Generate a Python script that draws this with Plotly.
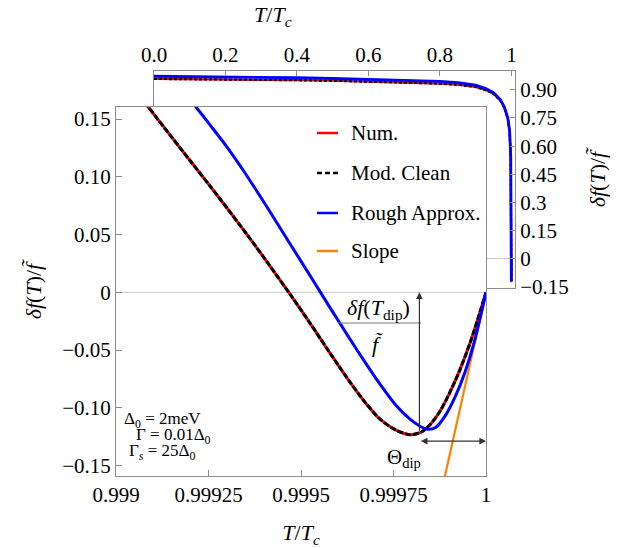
import plotly.graph_objects as go

# ---------------- data ----------------
# close-up window near T_c
t_main = [0.9990649, 0.9990873, 0.9991459, 0.9992000, 0.9992541, 0.9993081, 0.9993622,
          0.9994162, 0.9994703, 0.9995243, 0.9995784, 0.9996324, 0.9996730, 0.9997135,
          0.9997541, 0.9997946, 0.9998243, 0.9998486, 0.9998757, 0.9999027, 0.9999297,
          0.9999568, 0.9999838, 1.0]
num_main = [0.1701, 0.1605, 0.1363, 0.1142, 0.0921, 0.0696, 0.0466,
            0.0228, -0.0015, -0.0266, -0.0526, -0.0777, -0.0951, -0.1098,
            -0.1189, -0.1232, -0.1211, -0.1146, -0.1029, -0.0864, -0.0669,
            -0.0439, -0.0171, 0.0]
mod_clean_main = [0.1701, 0.1605, 0.1363, 0.1142, 0.0921, 0.0696, 0.0466,
                  0.0228, -0.0015, -0.0266, -0.0526, -0.0777, -0.0951, -0.1098,
                  -0.1189, -0.1232, -0.1211, -0.1146, -0.1029, -0.0864, -0.0669,
                  -0.0439, -0.0171, 0.0]

t_rough = [0.9992000, 0.9992162, 0.9992541, 0.9992992, 0.9993441, 0.9993892, 0.9994343,
           0.9994792, 0.9995243, 0.9995784, 0.9996324, 0.9996730, 0.9997135, 0.9997541,
           0.9997946, 0.9998216, 0.9998432, 0.9998649, 0.9998892, 0.9999162, 0.9999432,
           0.9999703, 1.0]
rough_main = [0.1671, 0.1605, 0.1450, 0.1262, 0.1055, 0.0834, 0.0605,
              0.0375, 0.0146, -0.0132, -0.0405, -0.0604, -0.0795, -0.0968,
              -0.1098, -0.1159, -0.1185, -0.1167, -0.1072, -0.0907, -0.0691,
              -0.0405, 0.0]

slope_t = [0.99988, 1.0]
slope_vals = [-0.172, 0.0]

# dip markers
t_dip = 0.99982
dip_val = -0.1211
theta_level = -0.1288

# full temperature range (inset)
t_full = [0.0, 0.1, 0.2, 0.3, 0.4, 0.5, 0.6, 0.7, 0.8, 0.85, 0.9, 0.93, 0.95,
          0.97, 0.98, 0.99, 0.995, 0.998, 0.999, 0.9995, 0.9998, 1.0]
num_full = [0.958, 0.957, 0.956, 0.954, 0.951, 0.948, 0.944, 0.939, 0.933, 0.927,
            0.915, 0.897, 0.878, 0.840, 0.805, 0.745, 0.675, 0.540, 0.330, 0.0,
            -0.124, 0.0]
mod_clean_full = [0.958, 0.957, 0.956, 0.954, 0.951, 0.948, 0.944, 0.939, 0.933, 0.927,
                  0.915, 0.897, 0.878, 0.840, 0.805, 0.745, 0.675, 0.540, 0.330, 0.0,
                  -0.124, 0.0]
rough_full = [0.972, 0.971, 0.969, 0.967, 0.964, 0.960, 0.956, 0.951, 0.945, 0.938,
              0.925, 0.905, 0.885, 0.845, 0.810, 0.750, 0.680, 0.550, 0.350, 0.05,
              -0.118, 0.0]

main_xticks = [0.999, 0.99925, 0.9995, 0.99975, 1.0]
main_xlabels = ["0.999", "0.99925", "0.9995", "0.99975", "1"]
main_yticks = [-0.15, -0.10, -0.05, 0.0, 0.05, 0.10, 0.15]
main_ylabels = ["\u22120.15", "\u22120.10", "\u22120.05", "0", "0.05", "0.10", "0.15"]
full_xticks = [0.0, 0.2, 0.4, 0.6, 0.8, 1.0]
full_xlabels = ["0.0", "0.2", "0.4", "0.6", "0.8", "1"]
full_yticks = [-0.15, 0.0, 0.15, 0.3, 0.45, 0.6, 0.75, 0.9]
full_ylabels = ["\u22120.15", "0", "0.15", "0.3", "0.45", "0.60", "0.75", "0.90"]

legend_names = ["Num.", "Mod. Clean", "Rough Approx.", "Slope"]
param_lines = ["\u0394<sub>0</sub> = 2meV",
               "\u0393 = 0.01\u0394<sub>0</sub>",
               "\u0393<sub><i>s</i></sub> = 25\u0394<sub>0</sub>"]

# ---------------- styling ----------------
W, H = 641, 548
FONT = "Liberation Serif"
RED, BLUE, ORANGE = "#ff0000", "#0000ff", "#ff8000"
FRAME = "#8c8c8c"
main_xrange = [0.999, 1.0]
main_yrange = [-0.159, 0.1605]
full_xrange = [0.0, 1.01]
full_yrange = [-0.155, 1.0]


def px(xp):
    return xp / W


def py(yp):
    return 1 - yp / H


TITLE_T = "<i>T</i>/<i>T</i><sub><i>c</i></sub>"
TITLE_DF = "<i>\u03b4f</i>(<i>T</i>)/<i>f\u0303</i>"

fig = go.Figure()

# inset: full range (subplot xy, drawn first)
fig.add_trace(go.Scatter(x=t_full, y=num_full, mode="lines", xaxis="x", yaxis="y",
                         line=dict(color=RED, width=2.2), showlegend=False))
fig.add_trace(go.Scatter(x=t_full, y=mod_clean_full, mode="lines", xaxis="x", yaxis="y",
                         line=dict(color="black", width=2.2, dash="3px,2px"), showlegend=False))
fig.add_trace(go.Scatter(x=t_full, y=rough_full, mode="lines", xaxis="x", yaxis="y",
                         line=dict(color=BLUE, width=2.8), showlegend=False))

# main window (subplot x2y2, drawn on top); opaque backing hides the inset frame
fig.add_trace(go.Scatter(
    x=[main_xrange[0], main_xrange[1], main_xrange[1], main_xrange[0], main_xrange[0]],
    y=[main_yrange[0], main_yrange[0], main_yrange[1], main_yrange[1], main_yrange[0]],
    mode="lines", fill="toself", fillcolor="white", line=dict(width=0, color="white"),
    xaxis="x2", yaxis="y2", hoverinfo="skip", showlegend=False))
fig.add_trace(go.Scatter(x=main_xrange, y=[0, 0], mode="lines", xaxis="x2", yaxis="y2",
                         line=dict(color="#c8c8c8", width=1), hoverinfo="skip",
                         showlegend=False))
fig.add_trace(go.Scatter(x=slope_t, y=slope_vals, mode="lines", xaxis="x2", yaxis="y2",
                         line=dict(color=ORANGE, width=2.2), name=legend_names[3],
                         showlegend=False))
fig.add_trace(go.Scatter(x=t_main, y=num_main, mode="lines", xaxis="x2", yaxis="y2",
                         line=dict(color=RED, width=3, shape="spline", smoothing=0.8),
                         name=legend_names[0], showlegend=False))
fig.add_trace(go.Scatter(x=t_main, y=mod_clean_main, mode="lines", xaxis="x2", yaxis="y2",
                         line=dict(color="black", width=3, dash="6px,2px", shape="spline",
                                   smoothing=0.8),
                         name=legend_names[1], showlegend=False))
fig.add_trace(go.Scatter(x=t_rough, y=rough_main, mode="lines", xaxis="x2", yaxis="y2",
                         line=dict(color=BLUE, width=3, shape="spline", smoothing=0.8),
                         name=legend_names[2], showlegend=False))

tickfont = dict(family=FONT, size=21, color="black")


def axis_style(**extra):
    base = dict(showline=True, linecolor=FRAME, linewidth=1, mirror=True,
                ticks="inside", tickcolor=FRAME, ticklen=6, tickwidth=1,
                showgrid=False, zeroline=False, tickfont=tickfont, automargin=False)
    base.update(extra)
    return base


fig.update_layout(
    width=W, height=H,
    margin=dict(l=0, r=0, t=0, b=0),
    paper_bgcolor="white", plot_bgcolor="rgba(0,0,0,0)",
    font=dict(family=FONT, color="black"),
    showlegend=False,
    xaxis=axis_style(domain=[px(154), px(515)], range=full_xrange, anchor="y", side="top",
                     tickvals=full_xticks, ticktext=full_xlabels, ticklen=5),
    yaxis=axis_style(domain=[py(288), py(71)], range=full_yrange, anchor="x", side="right",
                     tickvals=full_yticks, ticktext=full_ylabels, ticklen=5,
                     zeroline=True, zerolinecolor="#c8c8c8", zerolinewidth=1,
                     title=dict(text=TITLE_DF, font=dict(family=FONT, size=22),
                                standoff=21)),
    xaxis2=axis_style(domain=[px(116), px(486)], range=main_xrange, anchor="y2",
                      side="bottom", tickvals=main_xticks, ticktext=main_xlabels,
                      title=dict(text=TITLE_T, font=dict(family=FONT, size=22),
                                 standoff=18)),
    yaxis2=axis_style(domain=[py(476), py(107)], range=main_yrange, anchor="x2",
                      side="left", tickvals=main_yticks, ticktext=main_ylabels,
                      title=dict(text=TITLE_DF, font=dict(family=FONT, size=22),
                                 standoff=14)),
)

annotations = []
# top axis title
annotations.append(dict(text=TITLE_T, x=px(273), y=py(16), xref="paper", yref="paper",
                        xanchor="center", yanchor="middle", showarrow=False,
                        font=dict(family=FONT, size=22)))

# manual legend
shapes = []
legend_rows = [133, 173, 213, 251]
legend_styles = [dict(color=RED, width=2.5), dict(color="black", width=2.5, dash="5px,3px"),
                 dict(color=BLUE, width=2.5), dict(color=ORANGE, width=2.5)]
for name, row, st in zip(legend_names, legend_rows, legend_styles):
    shapes.append(dict(type="line", xref="paper", yref="paper", x0=px(317), x1=px(338),
                       y0=py(row), y1=py(row), line=st))
    annotations.append(dict(text=name, x=px(349), y=py(row), xref="paper", yref="paper",
                            xanchor="left", yanchor="middle", showarrow=False,
                            font=dict(family=FONT, size=21)))

# parameter box
param_x = [123, 135, 128]
param_rows = [420, 436, 452]
for txt, xl, row in zip(param_lines, param_x, param_rows):
    annotations.append(dict(text=txt, x=px(xl), y=py(row), xref="paper", yref="paper",
                            xanchor="left", yanchor="middle", showarrow=False,
                            font=dict(family=FONT, size=17), borderpad=0))

# dip depth arrow
annotations.append(dict(x=t_dip, y=0.0, ax=t_dip, ay=dip_val, xref="x2", yref="y2",
                        axref="x2", ayref="y2", text="", showarrow=True, arrowhead=2,
                        arrowsize=1.1, arrowwidth=1.2, arrowcolor="#333333", standoff=0))
# dip width arrow
annotations.append(dict(x=main_xrange[1], y=theta_level, ax=t_dip, ay=theta_level,
                        xref="x2", yref="y2", axref="x2", ayref="y2", text="",
                        showarrow=True, arrowhead=2, arrowside="end+start", arrowsize=1.1,
                        arrowwidth=1.2, arrowcolor="#333333", standoff=0, startstandoff=0))
annotations.append(dict(text="\u0398<sub>dip</sub>", x=px(404), y=py(458), xref="paper",
                        yref="paper", xanchor="center", yanchor="middle", showarrow=False,
                        font=dict(family=FONT, size=21)))
# dip depth label as a fraction
annotations.append(dict(text="<i>\u03b4f</i>(<i>T</i><sub>dip</sub>)", x=px(378), y=py(309),
                        xref="paper", yref="paper", xanchor="center", yanchor="middle",
                        showarrow=False, font=dict(family=FONT, size=22)))
annotations.append(dict(text="<i>f\u0303</i>", x=px(377), y=py(344), xref="paper",
                        yref="paper", xanchor="center", yanchor="middle", showarrow=False,
                        font=dict(family=FONT, size=22)))
shapes.append(dict(type="line", xref="paper", yref="paper", x0=px(338), x1=px(421),
                   y0=py(323), y1=py(323), line=dict(color="#777777", width=1)))

fig.update_layout(annotations=annotations, shapes=shapes)
fig.write_html("out.html")
